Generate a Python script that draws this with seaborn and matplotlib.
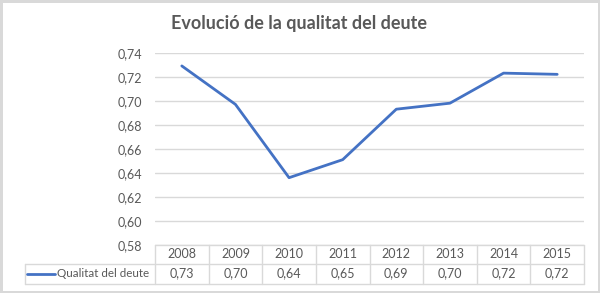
import matplotlib
matplotlib.use("Agg")
import matplotlib.pyplot as plt
import seaborn as sns
import pandas as pd
import numpy as np
from matplotlib.lines import Line2D

years = ["2008", "2009", "2010", "2011", "2012", "2013", "2014", "2015"]
quality = [0.729, 0.697, 0.636, 0.651, 0.693, 0.698, 0.723, 0.722]
yticks = [0.58, 0.60, 0.62, 0.64, 0.66, 0.68, 0.70, 0.72, 0.74]
series_name = "Qualitat del deute"
title = "Evolució de la qualitat del deute"

sns.set_style("white")
plt.rcParams['font.family'] = ['Lato', 'DejaVu Sans']

W, H = 600, 293
fig = plt.figure(figsize=(W / 100, H / 100), dpi=100)
fig.patch.set_facecolor("white")
fig.patch.set_edgecolor("#d9d9d9")
fig.patch.set_linewidth(2.5)

grey = "#595959"
gridc = "#d9d9d9"
blue = "#4472C4"

L, R = 155, 584
top_px, bot_px = 52.7, 245
ax = fig.add_axes([L / W, (H - bot_px) / H, (R - L) / W, (bot_px - top_px) / H])
df = pd.DataFrame({"pos": np.arange(len(years)), "val": quality})
sns.lineplot(data=df, x="pos", y="val", ax=ax, color=blue, linewidth=2.0)
ax.set_xlim(-0.5, len(years) - 0.5)
ax.set_ylim(0.58, 0.74)
ax.set_yticks(yticks)
ax.set_yticklabels([f"{v:.2f}".replace(".", ",") for v in yticks], color=grey, fontsize=9)
ax.set_xticks([])
ax.set_xlabel("")
ax.set_ylabel("")
for s in ax.spines.values():
    s.set_visible(False)
ax.tick_params(axis="y", length=0, pad=9)
ax.grid(axis="y", color=gridc, linewidth=1)
ax.set_axisbelow(True)

fig.text(0.498, (H - 23) / H, title, ha="center", va="center",
         fontsize=13, fontweight="bold", color=grey)

# data table
t_top, t_mid, t_bot = 245, 263.5, 283.5
tax = fig.add_axes([L / W, (H - t_bot) / H, (R - L) / W, (t_bot - t_top) / H])
tax.set_xlim(-0.5, len(years) - 0.5)
tax.set_ylim(0, 2)
tax.axis("off")
unit = (R - L) / len(years)
left_x = -0.5 - (L - 25) / unit
mid_y = (t_bot - t_mid) / (t_bot - t_top) * 2
lw = 1
for i in range(len(years) + 1):
    tax.plot([i - 0.5, i - 0.5], [0, 2], color=gridc, lw=lw, clip_on=False)
tax.plot([-0.5, len(years) - 0.5], [2, 2], color=gridc, lw=lw, clip_on=False)
tax.plot([left_x, len(years) - 0.5], [mid_y, mid_y], color=gridc, lw=lw, clip_on=False)
tax.plot([left_x, len(years) - 0.5], [0, 0], color=gridc, lw=lw, clip_on=False)
tax.plot([left_x, left_x], [0, mid_y], color=gridc, lw=lw, clip_on=False)
for i, (y, v) in enumerate(zip(years, quality)):
    tax.text(i, (mid_y + 2) / 2, y, ha="center", va="center", fontsize=9, color=grey)
    tax.text(i, mid_y / 2, f"{v:.2f}".replace(".", ","), ha="center", va="center",
             fontsize=9, color=grey)
lx0 = left_x + (27 - 25) / unit
lx1 = left_x + (55 - 25) / unit
tax.add_line(Line2D([lx0, lx1], [mid_y / 2, mid_y / 2], color=blue, lw=2.0, clip_on=False))
tax.text(lx1 + 2 / unit, mid_y / 2, series_name, ha="left", va="center", fontsize=8.4, color=grey)

fig.savefig("out.png", dpi=100, facecolor=fig.get_facecolor(), edgecolor=fig.get_edgecolor())
